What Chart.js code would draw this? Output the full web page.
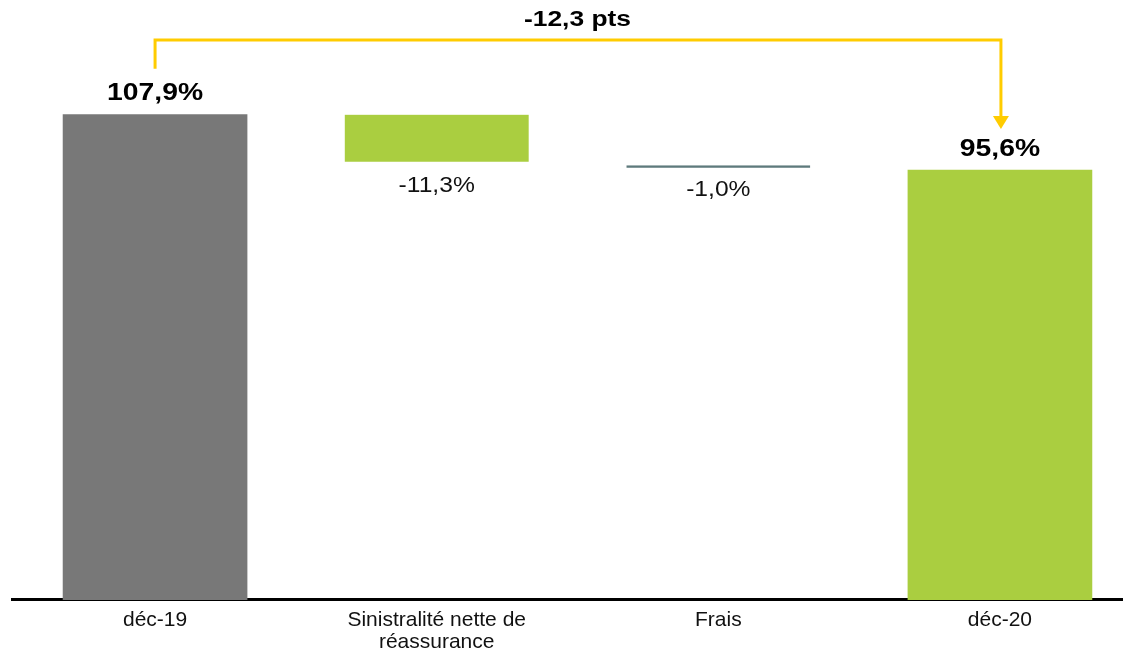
<!DOCTYPE html>
<html>
<head>
<meta charset="utf-8">
<script src="https://cdn.jsdelivr.net/npm/chart.js@4.4.1/dist/chart.umd.min.js"></script>
<style>
    body { margin: 0; background: #fff; }
    #wrap { width: 1123px; height: 648px; }
</style>
</head>
<body>
<div id="wrap"><canvas id="waterfall"></canvas></div>
<script>
// data
const categories = ["déc-19", ["Sinistralité nette de", "réassurance"], "Frais", "déc-20"];
const startValue = 107.9;
const deltas = [-11.3, -1.0];
const endValue = 95.6;
const valueLabels = ["107,9%", "-11,3%", "-1,0%", "95,6%"];
const bridgeLabel = "-12,3 pts";

// waterfall ranges
var ranges = [[0, startValue]];
var level = startValue;
deltas.forEach((d) => {
    ranges.push([level + d, level]);
    level = level + d;
});
ranges.push([0, endValue]);

const GRAY = "#787878";
const GREEN = "#AACE40";
const YELLOW = "#FFCC00";
const FONT = "'Liberation Sans', Arial, sans-serif";

// the original text is a bit wider than Arial, stretch it horizontally
var wideText = (ctx, text, x, y, stretch) => {
    ctx.save();
    ctx.translate(x, y);
    ctx.scale(stretch, 1);
    ctx.fillText(text, 0, 0);
    ctx.restore();
};

const labelPlugin = {
    id: "labels",
    afterDatasetsDraw(chart) {
        const ctx = chart.ctx;
        const bars = chart.getDatasetMeta(0).data;
        ctx.save();
        ctx.textAlign = "center";
        ctx.textBaseline = "middle";
        bars.forEach((bar, i) => {
            const top = Math.min(bar.y, bar.base);
            const bottom = Math.max(bar.y, bar.base);
            if (i == 0 || i == bars.length - 1) {
                ctx.font = "bold 24px " + FONT;
                ctx.fillStyle = "#000";
                wideText(ctx, valueLabels[i], bar.x, top - 21, 1.18);
            } else {
                ctx.font = "22px " + FONT;
                ctx.fillStyle = "#111";
                wideText(ctx, valueLabels[i], bar.x, bottom + 20, 1.12);
            }
        });

        // bridge arrow between first and last bar
        const first = bars[0];
        const last = bars[bars.length - 1];
        const lineY = 40;
        const startY = Math.min(first.y, first.base) - 46;
        const tipY = Math.min(last.y, last.base) - 41;
        ctx.strokeStyle = YELLOW;
        ctx.lineWidth = 3;
        ctx.beginPath();
        ctx.moveTo(first.x, startY);
        ctx.lineTo(first.x, lineY);
        ctx.lineTo(last.x + 1, lineY);
        ctx.lineTo(last.x + 1, tipY - 12);
        ctx.stroke();
        ctx.fillStyle = YELLOW;
        ctx.beginPath();
        ctx.moveTo(last.x + 1 - 8, tipY - 13);
        ctx.lineTo(last.x + 1 + 8, tipY - 13);
        ctx.lineTo(last.x + 1, tipY);
        ctx.closePath();
        ctx.fill();

        ctx.font = "bold 22px " + FONT;
        ctx.fillStyle = "#000";
        wideText(ctx, bridgeLabel, (first.x + last.x) / 2, 20, 1.2);
        ctx.restore();
    },
};

const waterfallConfig = {
    type: "bar",
    data: {
        datasets: [
            {
                data: ranges.map((r, i) => ({ x: i, y: r })),
                backgroundColor: [GRAY, GREEN, "rgba(0,0,0,0)", GREEN],
                borderColor: ["#fff", "#fff", "#5E7A7C", "#fff"],
                borderWidth: [
                    0,
                    { top: 0, left: 0, right: 0, bottom: 4 },
                    { top: 2, left: 0, right: 0, bottom: 0 },
                    0,
                ],
                borderSkipped: false,
                barThickness: 184,
            },
        ],
    },
    options: {
        responsive: true,
        maintainAspectRatio: false,
        animation: false,
        layout: { padding: { left: 12, right: 0, top: 0, bottom: -14 } },
        plugins: {
            legend: { display: false },
            tooltip: { enabled: false },
        },
        scales: {
            x: {
                type: "linear",
                offset: false,
                min: -0.508,
                max: 3.437,
                grid: { display: false, drawTicks: false, offset: false },
                border: { display: true, color: "#000", width: 3 },
                ticks: {
                    stepSize: 1,
                    includeBounds: false,
                    autoSkip: false,
                    maxRotation: 0,
                    padding: 9,
                    color: "#111",
                    font: { family: FONT, size: 21, lineHeight: 1.05 },
                    callback: (value) => (Number.isInteger(value) && categories[value]) ? categories[value] : "",
                },
            },
            y: {
                display: false,
                min: 0,
                max: 133.4,
            },
        },
    },
    plugins: [labelPlugin],
};

var waterfallChart = new Chart(document.getElementById("waterfall"), waterfallConfig);
</script>
</body>
</html>
